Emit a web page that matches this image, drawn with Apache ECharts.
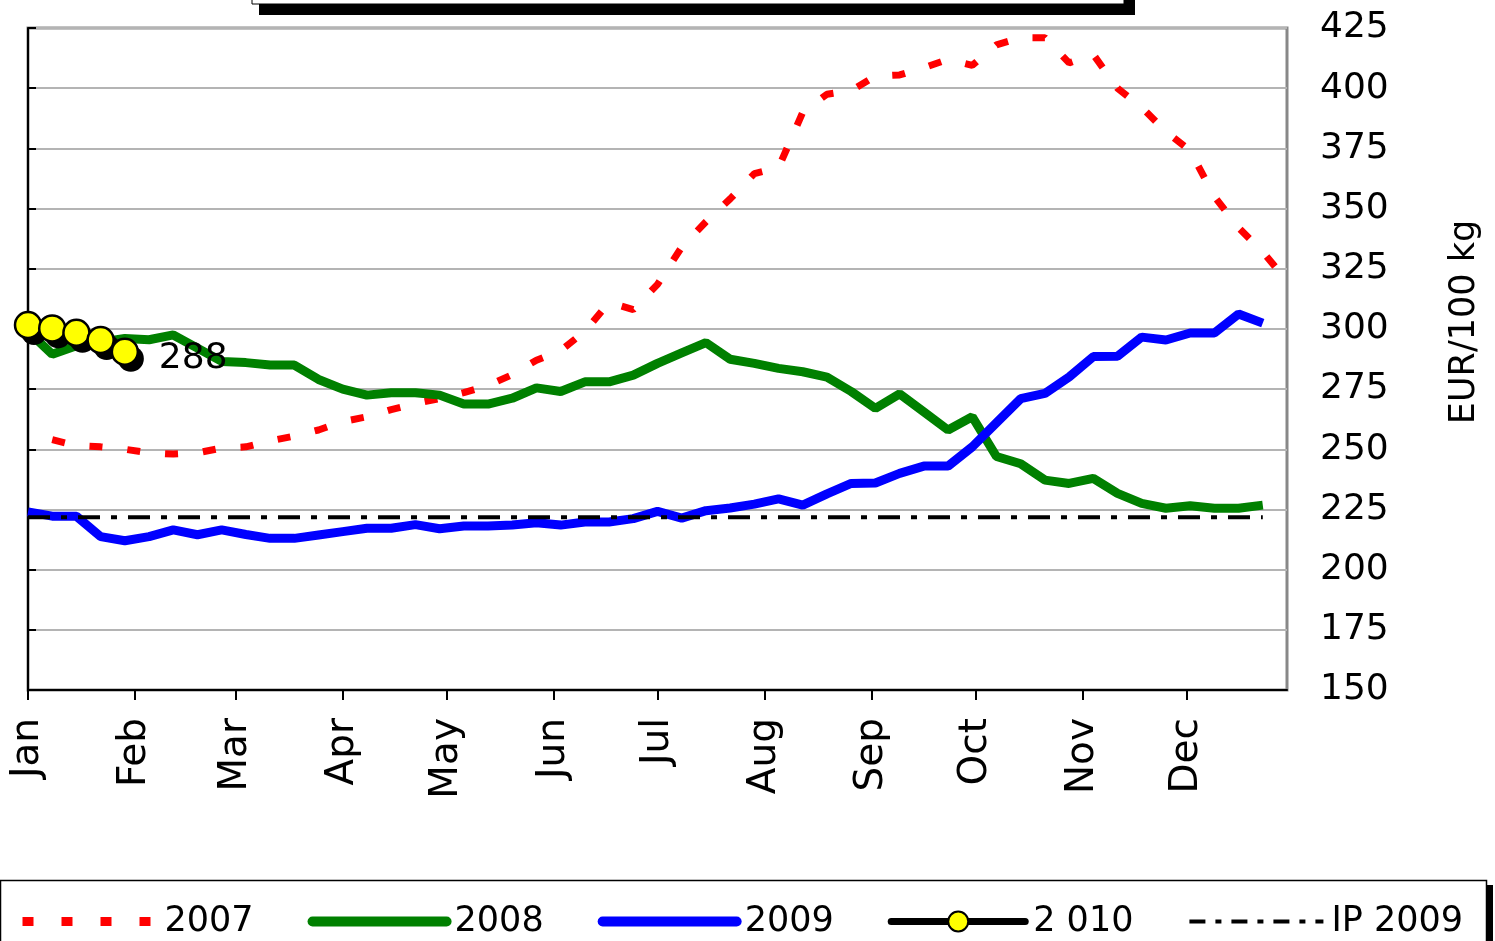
<!DOCTYPE html>
<html><head><meta charset="utf-8">
<script src="https://cdn.jsdelivr.net/npm/echarts@6/dist/echarts.min.js"></script>
<style>html,body{margin:0;padding:0;background:#fff}#c{width:1495px;height:941px}</style>
</head><body><div id="c"></div>
<script>
// ---- data ----
const monthNames = ['Jan','Feb','Mar','Apr','May','Jun','Jul','Aug','Sep','Oct','Nov','Dec'];
const monthStartDays = [0,31,60,91,121,152,182,213,244,274,305,335];
const yMin = 150, yMax = 425, yStep = 25;
// weekly values, index = week number
const s2007 = [null,254,251.5,251,250,248.5,248,248.5,250.5,251,253.5,255.5,258,261.5,263.5,266.5,269,271,273.5,276.5,281,287,291,299,311,308,318.5,334,344.5,354,364.5,367,390,397.5,399,405,405.5,408.5,412,409.5,418,421,421,410.5,414,400,392,382,374,355,342,332,320];
const s2008 = [299,289.5,293,294.5,296,295.5,297.5,292,286.5,286,285,285,279,275,272.5,273.5,273.5,272.5,268.8,268.8,271.2,275.5,274,278,278,280.8,285.7,290,294.3,287.4,285.7,283.6,282.2,280,274,267,273,265.5,258,263.5,247,244,237.2,235.8,237.9,231.7,227.5,225.5,226.5,225.5,225.5,226.8];
const s2009 = [224,222.2,222.2,213.7,212,213.7,216.5,214.5,216.5,214.6,213,213,214.4,215.8,217.2,217.2,218.7,217,218.1,218.1,218.5,219.5,218.5,219.8,219.8,221.2,224.2,221.4,224.5,225.6,227.2,229.4,226.8,231.5,235.8,236,240,243,243,251,261,271,273.2,280,288.5,288.6,296.6,295.4,298.3,298.3,306.2,302.4];
const s2010 = [298.7,297.3,295.5,292.5,287.6];
const ipValue = 221.75;
const ipFromWeek = 0, ipToWeek = 51;

const FONT = "'Comic Sans MS','DejaVu Sans',sans-serif";
const toPts = arr => arr.map((v,i) => [i, v]);
const monthTicks = monthStartDays.map(d => d/7);

const chart = echarts.init(document.getElementById('c'), null, {renderer:'canvas'});
const shadowData = s2010.map((v,i) => {
  const it = {value:[i, v]};
  if (i === s2010.length-1) it.label = {show:true};
  return it;
});
chart.setOption({
  animation:false,
  backgroundColor:'#fff',
  grid:{left:28, right:208, top:28, bottom:251, show:true, borderColor:'#888', borderWidth:3, backgroundColor:'transparent', outerBoundsMode:'none'},
  graphic:[
    {type:'rect', z:0, shape:{x:259,y:-20,width:876,height:35}, style:{fill:'#000'}},
    {type:'rect', z:1, shape:{x:252,y:-20,width:872,height:24}, style:{fill:'#fff', stroke:'#000', lineWidth:1}},
    {type:'rect', z:0, shape:{x:6,y:885,width:1487,height:80}, style:{fill:'#000'}},
    {type:'rect', z:1, shape:{x:0.5,y:880.5,width:1486,height:80}, style:{fill:'#fff', stroke:'#000', lineWidth:1.5}},
    {type:'text', z:5, x:1465, y:322, rotation:Math.PI/2,
      style:{text:'EUR/100 kg', font:"35px " + FONT, fill:'#000', align:'center', verticalAlign:'middle'}}
  ],
  legend:{
    left:18, top:904, padding:0, itemWidth:134, itemHeight:25, itemGap:54,
    textStyle:{fontFamily:FONT, fontSize:35, color:'#000', padding:[0,0,0,3]},
    data:[
      {name:'2007', itemStyle:{opacity:0}, lineStyle:{width:9, type:[11,28], cap:'butt'}},
      {name:'2008', itemStyle:{opacity:0}, lineStyle:{width:10, cap:'round'}},
      {name:'2009', itemStyle:{opacity:0}, lineStyle:{width:10, cap:'round'}},
      {name:'2 010', lineStyle:{width:7, cap:'round'}},
      {name:'IP 2009', itemStyle:{opacity:0}, lineStyle:{width:4, type:[16,10,6,10], cap:'butt'}}
    ]
  },
  xAxis:{
    type:'value', min:0, max:52,
    splitLine:{show:false},
    axisLine:{show:true, lineStyle:{color:'#000', width:2}},
    axisTick:{show:true, length:10, lineStyle:{color:'#000', width:2}, customValues:monthTicks},
    axisLabel:{show:true, rotate:90, margin:28, fontSize:39, fontFamily:FONT, color:'#000',
      customValues:monthTicks,
      formatter: v => { const i = monthTicks.findIndex(t => Math.abs(t - v) < 1e-6); return i >= 0 ? monthNames[i] : ''; }}
  },
  yAxis:{
    type:'value', position:'right', min:yMin, max:yMax, interval:yStep,
    axisLine:{show:true, lineStyle:{color:'#000', width:2}},
    axisTick:{show:true, length:8, lineStyle:{color:'#000', width:2}},
    axisLabel:{margin:33, fontSize:36, fontFamily:FONT, color:'#000'},
    splitLine:{show:true, lineStyle:{color:'#b4b4b4', width:2}}
  },
  series:[
    {name:'2007', type:'line', data:s2007.map((v,i)=>[i,v]).filter(p=>p[1]!==null), symbol:'none', silent:true,
      lineStyle:{color:'#ff0000', width:7, type:[13,25], cap:'butt'}, itemStyle:{color:'#ff0000'}},
    {name:'2008', type:'line', data:toPts(s2008), symbol:'none', silent:true,
      lineStyle:{color:'#008000', width:9}, itemStyle:{color:'#008000'}},
    {name:'2009', type:'line', data:toPts(s2009), symbol:'none', silent:true,
      lineStyle:{color:'#0000ff', width:9}, itemStyle:{color:'#0000ff'}},
    {name:'2010shadow', type:'line', data:shadowData, symbol:'circle', symbolSize:26, symbolOffset:[6,0], silent:true,
      lineStyle:{width:0, opacity:0}, itemStyle:{color:'#000'},
      label:{show:false, position:'right', distance:15, fontSize:36, fontFamily:FONT, color:'#000',
        formatter: p => String(Math.round(p.value[1]))}},
    {name:'2 010', type:'line', data:toPts(s2010), symbol:'circle', symbolSize:26, symbolOffset:[0,-7], silent:true,
      lineStyle:{color:'#000', width:6}, itemStyle:{color:'#ffff00', borderColor:'#000', borderWidth:2.5}},
    {name:'IP 2009', type:'line', data:[[ipFromWeek, ipValue],[ipToWeek, ipValue]], symbol:'none', silent:true,
      lineStyle:{color:'#000', width:4, type:[22,11,6,11], cap:'butt'}, itemStyle:{color:'#000'}}
  ]
});
</script></body></html>
